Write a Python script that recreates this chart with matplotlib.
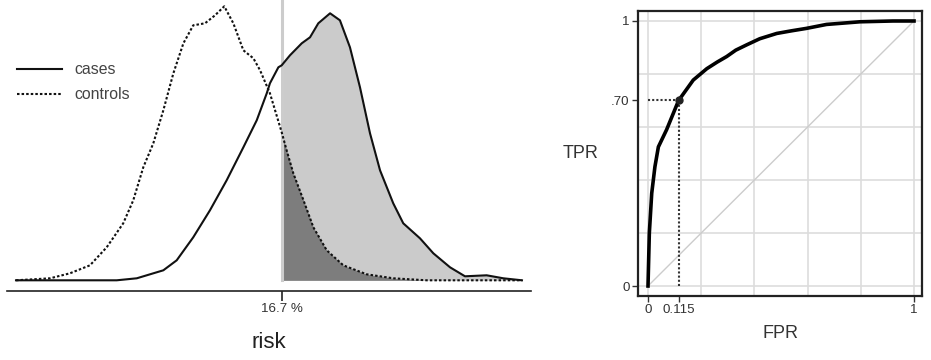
import numpy as np
import matplotlib
matplotlib.use("Agg")
import matplotlib.pyplot as plt

plt.rcParams['font.family'] = ['Liberation Sans', 'DejaVu Sans']

# risk distributions (risk in %, density in arbitrary units)
cases_risk = [0, 6.33, 7.59, 9.26, 10.10, 11.14, 12.19, 13.24, 14.29, 15.13, 15.76,
              15.96, 16.49, 16.70, 17.22, 17.96, 18.48, 19.00, 19.74, 20.36, 20.99,
              21.62, 22.25, 22.88, 23.71, 24.34, 25.39, 26.23, 27.28, 28.22, 29.58,
              30.63, 31.80]
cases_dens = [0, 0, 0.02, 0.10, 0.20, 0.43, 0.70, 1.00, 1.33, 1.60, 1.87,
              1.97, 2.13, 2.15, 2.25, 2.37, 2.43, 2.57, 2.67, 2.60, 2.33,
              1.93, 1.47, 1.10, 0.77, 0.57, 0.42, 0.27, 0.13, 0.04, 0.05,
              0.02, 0]
controls_risk = [0, 2.14, 3.39, 4.65, 5.70, 6.74, 7.37, 8.00, 8.63, 9.26, 9.89,
                 10.52, 11.14, 11.88, 12.51, 13.09, 13.66, 14.29, 14.92, 15.34,
                 15.96, 16.70, 17.01, 17.43, 18.07, 18.69, 19.53, 20.57, 22.04,
                 23.71, 25.81, 31.80]
controls_dens = [0, 0.02, 0.07, 0.15, 0.33, 0.57, 0.80, 1.13, 1.37, 1.70, 2.07,
                 2.37, 2.55, 2.57, 2.65, 2.74, 2.57, 2.30, 2.22, 2.10,
                 1.87, 1.48, 1.30, 1.07, 0.80, 0.53, 0.30, 0.15, 0.06,
                 0.02, 0, 0]
threshold = 16.7

# ROC curve
fpr = [0, 0.005, 0.014, 0.026, 0.039, 0.070, 0.115, 0.170, 0.221, 0.26, 0.296,
       0.33, 0.371, 0.42, 0.484, 0.54, 0.595, 0.671, 0.797, 0.921, 1.0]
tpr = [0, 0.20, 0.35, 0.45, 0.525, 0.59, 0.70, 0.777, 0.82, 0.845, 0.866,
       0.89, 0.91, 0.933, 0.953, 0.963, 0.972, 0.987, 0.997, 1.0, 1.0]
op_fpr, op_tpr = 0.115, 0.70

W, H = 931, 360
fig = plt.figure(figsize=(9.31, 3.6), dpi=100)

# ---- left panel: risk densities
ax = fig.add_axes([6.7 / W, (H - 290.5) / H, 524 / W, 290.5 / H])
cr, cd = np.array(cases_risk), np.array(cases_dens)
kr, kd = np.array(controls_risk), np.array(controls_dens)
m = cr >= threshold
ax.fill_between(cr[m], 0, cd[m], color='#cbcbcb', lw=0)
m = kr >= threshold
ax.fill_between(kr[m], 0, kd[m], color='#7d7d7d', lw=0)
ax.axvline(threshold, ymin=0.035, color='#cccccc', lw=2.2, zorder=1)
ax.plot(cr, cd, color='#111111', lw=1.5, label='cases')
ax.plot(kr, kd, color='#111111', lw=1.5, ls=(0, (1.2, 1.0)), label='controls')
ax.set_xlim(-0.585, 32.35)
ax.set_ylim(-0.102, 2.803)
for s in ['top', 'right', 'left']:
    ax.spines[s].set_visible(False)
ax.spines['bottom'].set_linewidth(1.2)
ax.spines['bottom'].set_color('#222222')
ax.set_yticks([])
ax.set_xticks([threshold])
ax.set_xticklabels(['16.7 %'])
ax.tick_params(axis='x', length=7, width=1.2, color='#222222', labelsize=9.6,
               labelcolor='#333333', pad=2)
ax.set_xlabel('risk', fontsize=16, color='#222222', labelpad=12)
ax.legend(loc='upper left', bbox_to_anchor=(0.0197, 0.786), frameon=False,
          borderpad=0, borderaxespad=0,
          fontsize=11.4, handlelength=2.85, handletextpad=0.76, labelspacing=0.63,
          labelcolor='#444444')

# ---- right panel: ROC
ax2 = fig.add_axes([638 / W, 64 / H, 284 / W, 285 / H])
grid = [0, 0.2, 0.4, 0.6, 0.8, 1.0]
for g in grid:
    ax2.axvline(g, color='#dddddd', lw=1.2, zorder=0)
    ax2.axhline(g, color='#dddddd', lw=1.2, zorder=0)
ax2.plot([0, 1], [0, 1], color='#cccccc', lw=1.0, zorder=1)
ax2.plot([0, op_fpr], [op_tpr, op_tpr], color='#333333', lw=1.5, ls=(0, (1, 1)), zorder=2)
ax2.plot([op_fpr, op_fpr], [0, op_tpr], color='#333333', lw=1.5, ls=(0, (1, 1)), zorder=2)
ax2.plot(fpr, tpr, color='black', lw=2.6, zorder=3)
ax2.plot([op_fpr], [op_tpr], 'o', color='#222222', ms=5, zorder=4)
ax2.set_xlim(-0.0376, 1.030)
ax2.set_ylim(-0.0377, 1.0377)
ax2.set_xticks([0, op_fpr, 1])
ax2.set_xticklabels(['0', '0.115', '1'])
ax2.set_yticks([0, op_tpr, 1])
ax2.set_yticklabels(['0', '.70', '1'])
ax2.tick_params(length=4, width=1.0, color='#333333', labelsize=9.6,
                labelcolor='#333333', pad=2)
for s in ax2.spines.values():
    s.set_linewidth(1.6)
    s.set_color('#222222')
ax2.set_xlabel('FPR', fontsize=13, color='#333333', labelpad=6)
ax2.set_ylabel('TPR', fontsize=13, color='#333333', rotation=0, labelpad=22, va='center')

fig.savefig('out.png', dpi=100)
